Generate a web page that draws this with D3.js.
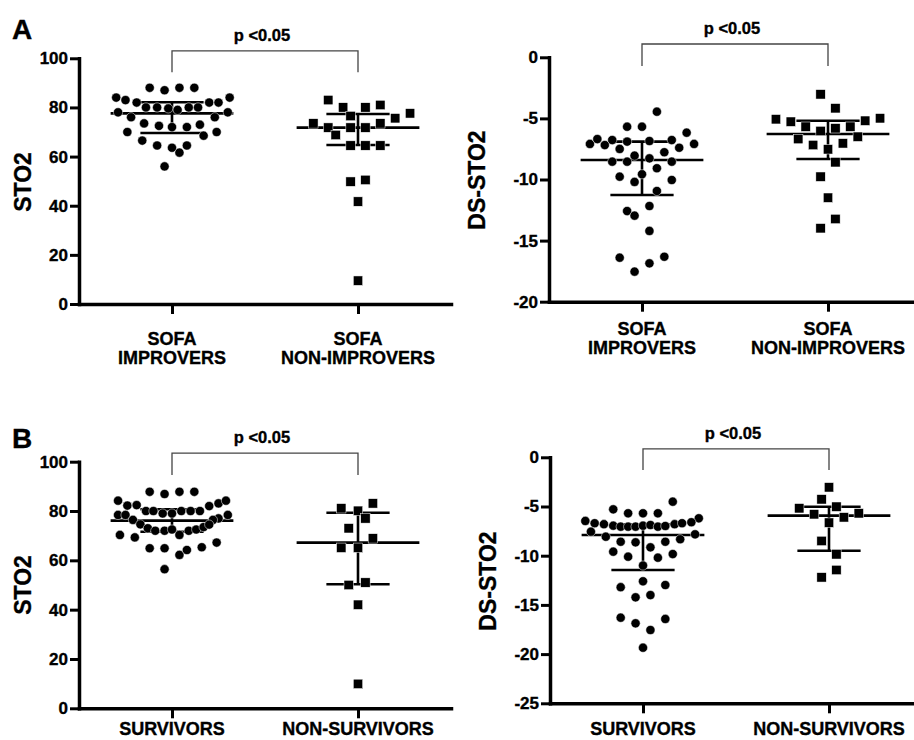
<!DOCTYPE html>
<html>
<head>
<meta charset="utf-8">
<script src="https://cdn.jsdelivr.net/npm/d3@7"></script>
<style>
  body { margin: 0; background: #fff; }
  svg { display: block; font-family: 'Liberation Sans', Arial, sans-serif; font-weight: bold; }
  svg text { stroke: #000; stroke-width: 0.35px; }
</style>
</head>
<body>
<svg id="chart" width="914" height="740"></svg>
<script>
// labels and ticks
const sofaLabels = [['SOFA', 'IMPROVERS'], ['SOFA', 'NON-IMPROVERS']];
const survivalLabels = [['SURVIVORS'], ['NON-SURVIVORS']];
const sto2Ticks = [0, 20, 40, 60, 80, 100];
const dsTicksA = [-20, -15, -10, -5, 0];
const dsTicksB = [-25, -20, -15, -10, -5, 0];
const pText = 'p <0.05';

// points: [value, offset from group centre in group units]
const sofaImpSto2 = [
    [88, -0.12], [87, -0.04], [88, 0.04], [88, 0.12],
    [84, -0.30], [83, -0.25], [82, -0.19], [82, 0.20], [82, 0.25], [84, 0.31],
    [78, -0.29], [78, 0.30],
    [80, -0.14], [80, -0.08], [79.6, -0.02], [79, 0.03], [80, 0.09], [80, 0.14],
    [76, -0.22], [76, 0.23],
    [73.5, -0.15], [72.5, -0.07], [72, 0], [72, 0.08], [73, 0.15],
    [70, -0.24], [68.5, 0.17], [70, 0.24],
    [66.5, -0.16], [64.5, -0.08], [63.6, 0], [61.6, 0.04], [64.5, 0.08],
    [56, -0.04]
];
const sofaNonImpSto2 = [
    [83, -0.16], [80, -0.08], [76.5, -0.04], [80, 0.04], [81, 0.12], [75.6, 0.20], [77.6, 0.28],
    [73.5, -0.24], [71.8, -0.16], [68.8, -0.12], [71.8, -0.04], [71.8, 0.04], [73.5, 0.12],
    [64.5, -0.04], [64.5, 0.04], [64.5, 0.12],
    [49.8, -0.04], [50.5, 0.04], [41.7, 0], [9.5, 0]
];
const sofaImpDs = [
    [-4.45, 0.08], [-5.68, -0.08], [-5.68, 0], [-6.17, 0.24],
    [-7.09, -0.28], [-6.69, -0.24], [-7.18, -0.20], [-6.77, -0.16], [-7.5, -0.12], [-6.9, -0.08],
    [-6.85, 0.04], [-7.77, 0.12], [-6.77, 0.16], [-7.4, 0.20], [-7.09, 0.28],
    [-8.05, -0.04], [-8.54, -0.16], [-8.54, -0.08], [-8.27, 0.04], [-8.54, 0.16],
    [-9.08, 0.08], [-9.77, -0.12], [-9.57, 0], [-10.2, -0.04], [-10.04, 0.16], [-10.94, 0.08],
    [-12.58, -0.08], [-12.96, -0.04], [-12.17, 0.04], [-14.21, 0.04],
    [-16.4, -0.12], [-16.32, 0.12], [-16.86, 0.04], [-17.54, -0.04]
];
const sofaNonImpDs = [
    [-3.03, -0.04], [-4.17, 0.04],
    [-5.07, -0.28], [-5.27, -0.20], [-5.68, -0.12], [-6.03, -0.04], [-5.81, 0.04],
    [-5.68, 0.12], [-5.19, 0.20], [-4.99, 0.28],
    [-6.69, -0.16], [-7.18, -0.08], [-7.53, 0], [-7.04, 0.08], [-6.5, 0.16],
    [-8.59, 0.04], [-9.77, -0.04], [-11.49, 0], [-13.23, 0.04], [-13.99, -0.04]
];
const survSto2 = [
    [87.8, -0.12], [86.9, -0.04], [87.8, 0.04], [87.8, 0.12],
    [84.2, -0.29], [82.2, -0.24], [82.4, -0.19],
    [80, -0.14], [80, -0.10], [79, -0.05], [79, 0], [80, 0.05], [80, 0.10], [80, 0.15],
    [82, 0.20], [83.1, 0.25], [84.2, 0.29],
    [78.4, -0.29], [78.4, -0.25], [78.4, 0.30],
    [76.4, -0.21], [77, 0.25], [76.4, 0.22], [74.6, -0.17],
    [73, -0.13], [72, -0.09], [72, -0.04], [72.5, 0], [70.3, 0.04], [72, 0.09], [72.5, 0.13],
    [73.5, 0.17], [74.5, 0.20],
    [70.3, -0.28], [69.3, -0.20],
    [64.9, -0.12], [64.9, -0.04], [62.2, 0.04], [64.2, 0.08], [65.3, 0.16], [67.2, 0.24],
    [56.4, -0.04]
];
const nonSurvSto2 = [
    [81.1, -0.09], [80.1, 0], [83.1, 0.08], [77, 0.04], [73, -0.05], [68.9, 0.08],
    [65.1, -0.09], [65.1, 0], [50, -0.05], [51, 0.04], [42, 0], [9.9, 0]
];
const survDs = [
    [-4.51, 0.16], [-5.29, -0.16], [-5.69, -0.08], [-5.69, 0], [-5.69, 0.08],
    [-6.47, -0.31], [-6.2, 0.30],
    [-6.7, -0.26], [-6.8, -0.21], [-6.95, -0.16], [-7.05, -0.12], [-7.05, -0.08], [-7.05, -0.04],
    [-6.95, 0], [-6.88, 0.04], [-7.05, 0.08], [-6.98, 0.12], [-6.8, 0.17], [-6.7, 0.21], [-6.6, 0.26],
    [-7.56, -0.28], [-8.07, -0.20], [-7.83, 0.28],
    [-8.58, -0.12], [-8.64, -0.04], [-8.58, 0.12], [-8.33, 0.20],
    [-9.59, -0.16], [-10.1, -0.08], [-9.15, 0.04], [-10.2, 0.08], [-9.83, 0.16], [-11, 0],
    [-13.2, -0.12], [-12.6, 0], [-12.98, 0.12], [-14.23, -0.04], [-14, 0.04],
    [-16.3, -0.12], [-16.87, -0.04], [-17.55, 0.04], [-16.43, 0.12], [-19.35, 0]
];
const nonSurvDs = [
    [-3.05, 0], [-4.27, -0.04], [-5.18, -0.16], [-5.02, 0.04], [-5.79, -0.08], [-6.1, 0.08],
    [-5.69, 0.16], [-6.64, 0], [-8.5, -0.04], [-9.86, 0.04], [-11.45, 0.04], [-12.2, -0.04]
];

// [centre line, lower bar, upper bar] for each group
const sofaSto2Stats = [[77.6, 69.6, 82.1], [71.8, 64.7, 77.3]];
const sofaDsStats = [[-8.4, -11.27, -6.9], [-6.28, -8.32, -5.19]];
const survSto2Stats = [[76.1, 71.6, 80.7], [67.2, 50.3, 79.3]];
const survDsStats = [[-7.9, -11.45, -6.8], [-5.93, -9.49, -5.02]];

const panels = [
    { letter: 'A', letterY: 38.5, axisX: 79, yRange: [304, 58.3], domain: [0, 100], ticks: sto2Ticks,
      yLabel: 'STO2', yLabelX: 31, yLabelY: 182, groups: [sofaImpSto2, sofaNonImpSto2], stats: sofaSto2Stats,
      cats: sofaLabels, catY: 345, bracket: [94.3, 103] },
    { axisX: 549, yRange: [301.7, 57.3], domain: [-20, 0], ticks: dsTicksA,
      yLabel: 'DS-STO2', yLabelX: 485, yLabelY: 180, groups: [sofaImpDs, sofaNonImpDs], stats: sofaDsStats,
      cats: sofaLabels, catY: 334.5, bracket: [-0.71, 1.09] },
    { letter: 'B', letterY: 448, axisX: 79, yRange: [708.3, 461.7], domain: [0, 100], ticks: sto2Ticks,
      yLabel: 'STO2', yLabelX: 31, yLabelY: 585, groups: [survSto2, nonSurvSto2], stats: survSto2Stats,
      cats: survivalLabels, catY: 735, bracket: [94.6, 103.5] },
    { axisX: 550, yRange: [703.3, 457.3], domain: [-25, 0], ticks: dsTicksB,
      yLabel: 'DS-STO2', yLabelX: 496, yLabelY: 581, groups: [survDs, nonSurvDs], stats: survDsStats,
      cats: survivalLabels, catY: 735, bracket: [-1.29, 0.85] }
];

const groupWidth = 93;
const meanHalf = 0.33;
const capHalf = 0.17;
const r = 4.6;
const sq = 9.4;

const svg = d3.select('#chart');

function drawPanel(p) {
    const x = d3.scaleLinear().domain([-0.5, 1.5]).range([p.axisX, p.axisX + groupWidth * 4]);
    const y = d3.scaleLinear().domain(p.domain).range(p.yRange);
    const g = svg.append('g');

    // x axis
    g.append('g')
        .attr('class', 'x axis')
        .attr('transform', `translate(0, ${p.yRange[0]})`)
        .call(d3.axisBottom(x).tickValues([0, 1]).tickSize(10).tickSizeOuter(0).tickFormat(''))
        .call(a => a.select('.domain').attr('stroke-width', 3.5).attr('stroke-linecap', 'square'))
        .call(a => a.selectAll('.tick line').attr('stroke-width', 3));

    // y axis (plain hyphen for negatives, as in the figure)
    g.append('g')
        .attr('class', 'y axis')
        .attr('transform', `translate(${p.axisX}, 0)`)
        .call(d3.axisLeft(y).tickValues(p.ticks).tickSize(9).tickPadding(2).tickSizeOuter(0)
            .tickFormat(d => String(d)))
        .call(a => a.select('.domain').attr('stroke-width', 3.5).attr('stroke-linecap', 'square'))
        .call(a => a.selectAll('.tick line').attr('stroke-width', 3))
        .call(a => a.selectAll('.tick text')
            .attr('fill', '#000')
            .style('font-size', '17px')
            .style('font-family', "'Liberation Sans', Arial, sans-serif")
            .style('font-weight', 'bold'));

    // category labels
    g.selectAll('.cat')
        .data(p.cats)
        .enter()
        .append('text')
        .attr('class', 'cat')
        .attr('text-anchor', 'middle')
        .style('font-size', '18px')
        .each(function(lines, i) {
            d3.select(this).selectAll('tspan')
                .data(lines)
                .enter()
                .append('tspan')
                .attr('x', x(i))
                .attr('y', (d, j) => p.catY + j * 19)
                .text(d => d);
        });

    // y label
    g.append('text')
        .attr('transform', `translate(${p.yLabelX}, ${p.yLabelY}) rotate(-90)`)
        .attr('text-anchor', 'middle')
        .style('font-size', '23px')
        .text(p.yLabel);

    if (p.letter) {
        g.append('text')
            .attr('x', 12)
            .attr('y', p.letterY)
            .style('font-size', '28px')
            .text(p.letter);
    }

    // significance bracket
    const [legBottom, top] = p.bracket;
    g.append('path')
        .attr('d', `M${x(0)},${y(legBottom)}V${y(top)}H${x(1)}V${y(legBottom)}`)
        .attr('fill', 'none')
        .attr('stroke', '#444')
        .attr('stroke-width', 1.3);
    g.append('text')
        .attr('x', (x(0) + x(1)) / 2 - 3)
        .attr('y', y(top) - 10)
        .attr('text-anchor', 'middle')
        .style('font-size', '16.5px')
        .text(pText);

    // centre line and bars
    p.stats.forEach(([mid, lo, hi], i) => {
        const s = g.append('g').attr('stroke', '#000').attr('stroke-width', 2.6);
        s.append('line').attr('x1', x(i - meanHalf)).attr('x2', x(i + meanHalf)).attr('y1', y(mid)).attr('y2', y(mid));
        s.append('line').attr('x1', x(i - capHalf)).attr('x2', x(i + capHalf)).attr('y1', y(hi)).attr('y2', y(hi));
        s.append('line').attr('x1', x(i - capHalf)).attr('x2', x(i + capHalf)).attr('y1', y(lo)).attr('y2', y(lo));
        s.append('line').attr('x1', x(i)).attr('x2', x(i)).attr('y1', y(hi)).attr('y2', y(lo));
    });

    // points: circles for first group, squares for second
    g.append('g')
        .selectAll('circle')
        .data(p.groups[0])
        .enter()
        .append('circle')
        .attr('cx', d => x(d[1]))
        .attr('cy', d => y(d[0]))
        .attr('r', r)
        .attr('fill', '#000')
        .attr('stroke', '#fff')
        .attr('stroke-width', 0.5);

    g.append('g')
        .selectAll('rect')
        .data(p.groups[1])
        .enter()
        .append('rect')
        .attr('x', d => x(1 + d[1]) - sq / 2)
        .attr('y', d => y(d[0]) - sq / 2)
        .attr('width', sq)
        .attr('height', sq)
        .attr('fill', '#000')
        .attr('stroke', '#fff')
        .attr('stroke-width', 0.5);
}

panels.forEach(drawPanel);
</script>
</body>
</html>
